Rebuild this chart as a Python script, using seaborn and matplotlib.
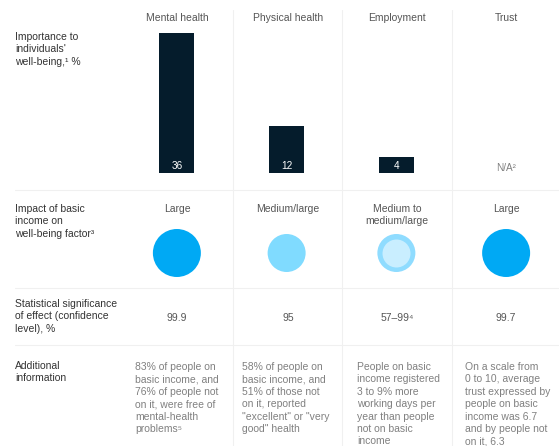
import numpy as np
import pandas as pd
import matplotlib.pyplot as plt
import seaborn as sns

# 데이터
categories = ["Mental health", "Physical health", "Employment", "Trust"]
importance = [36, 12, 4, np.nan]
impact_labels = ["Large", "Medium/large", "Medium to\nmedium/large", "Large"]
impact_level = ["Large", "Medium/large", "Medium to medium/large", "Large"]
significance = ["99.9", "95", "57–99⁴", "99.7"]
info = [
    "83% of people on\nbasic income, and\n76% of people not\non it, were free of\nmental-health\nproblems⁵",
    "58% of people on\nbasic income, and\n51% of those not\non it, reported\n\"excellent\" or \"very\ngood\" health",
    "People on basic\nincome registered\n3 to 9% more\nworking days per\nyear than people\nnot on basic\nincome",
    "On a scale from\n0 to 10, average\ntrust expressed by\npeople on basic\nincome was 6.7\nand by people not\non it, 6.3",
]
row_labels = [
    "Importance to\nindividuals'\nwell-being,¹ %",
    "Impact of basic\nincome on\nwell-being factor³",
    "Statistical significance\nof effect (confidence\nlevel), %",
    "Additional\ninformation",
]

W, H = 559, 446
sns.set_style("white")
plt.rcParams['font.family'] = ['Liberation Sans', 'DejaVu Sans']

fig = plt.figure(figsize=(W / 100, H / 100), dpi=100)

navy = '#051c2c'
label_col = '#333333'
head_col = '#555555'
body_col = '#808080'
line_col = '#f0f0f0'

# 컬럼 영역 (픽셀)
x0, x1 = 122, 561


def px_axes(left, top, right, bottom):
    return fig.add_axes([left / W, 1 - bottom / H, (right - left) / W, (bottom - top) / H])


# 1. 막대 (Importance)
ax_bar = px_axes(x0, 33, x1, 173)
sns.barplot(x=categories, y=importance, color=navy, width=0.32, ax=ax_bar,
            saturation=1, edgecolor='none')
ax_bar.set_xlim(-0.5, 3.5)
ax_bar.set_ylim(0, 36)
ax_bar.axis('off')
for i, v in enumerate(importance):
    if np.isnan(v):
        ax_bar.text(i, 1.3, "N/A²", ha='center', va='center', fontsize=7.2, color=body_col)
    else:
        ax_bar.text(i, 1.8, f"{int(v)}", ha='center', va='center', fontsize=7.2, color='white')

# 2. 원 (Impact)
ax_c = px_axes(x0, 213, x1, 293)
df_c = pd.DataFrame({'cat': categories, 'y': [0.5] * 4, 'impact': impact_level})
pal = {"Large": '#00a9f4', "Medium/large": '#80dbff', "Medium to medium/large": '#8fdcff'}
sizes = {"Large": 1194, "Medium/large": 749, "Medium to medium/large": 749}
sns.scatterplot(data=df_c, x='cat', y='y', hue='impact', size='impact', palette=pal,
                sizes=sizes, linewidth=0, legend=False, ax=ax_c)
ax_c.scatter([2], [0.5], s=406, color='#c9eeff', linewidth=0, zorder=5)
ax_c.set_xlim(-0.5, 3.5)
ax_c.set_ylim(0, 1)
ax_c.axis('off')

# 3. 텍스트 및 구분선 오버레이
ax = fig.add_axes([0, 0, 1, 1], facecolor='none')
ax.set_xlim(0, W)
ax.set_ylim(H, 0)
ax.axis('off')

for xv in [233, 342, 452]:
    ax.plot([xv, xv], [10, H], color=line_col, lw=0.8)
for yv in [190, 288, 345]:
    ax.plot([15, W], [yv, yv], color=line_col, lw=0.8)

centers = [177, 288, 397, 506]
info_left = [135, 242, 357, 465]
fs = 7.5
ls = 1.3
for i, c in enumerate(categories):
    ax.text(centers[i], 18, c, ha='center', va='center', fontsize=fs, color=head_col)
    ax.text(centers[i], 204, impact_labels[i], ha='center', va='top', fontsize=fs,
            color=head_col, linespacing=ls)
    ax.text(centers[i], 318, significance[i], ha='center', va='center', fontsize=fs, color=head_col)
    ax.text(info_left[i], 362, info[i], ha='left', va='top', fontsize=fs,
            color=body_col, linespacing=ls)

for lbl, yt in zip(row_labels, [32, 204, 299, 361]):
    ax.text(15, yt, lbl, ha='left', va='top', fontsize=fs, color=label_col, linespacing=ls)

plt.savefig('out.png', dpi=100)
plt.close()
